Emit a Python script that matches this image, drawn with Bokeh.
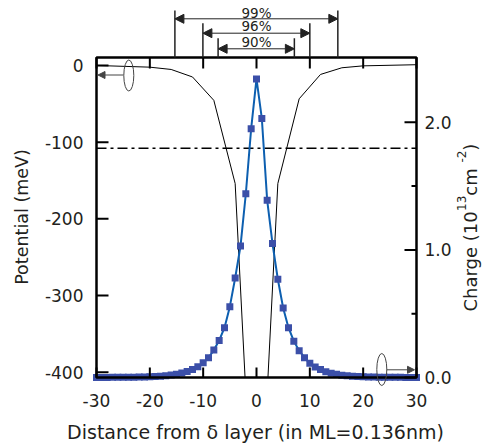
import math
from bokeh.plotting import figure
from bokeh.models import Range1d, Arrow, NormalHead
from bokeh.core.properties import value
from bokeh.embed import file_html
from bokeh.resources import INLINE

# ---------------- data ----------------
pot_x = [-30, -20, -16, -12, -8, -4, 0, 4, 8, 12, 16, 20, 30]
pot_v = [0.0, -2.2, -5.2, -15.0, -45.5, -154.0, -700.0, -154.0, -43.5, -11.7, -3.0, -0.5, 1.0]

charge_x = [-30, -29, -28, -27, -26, -25, -24, -23, -22, -21, -20, -19, -18, -17, -16,
            -15, -14, -13, -12, -11, -10, -9, -8, -7, -6, -5, -4, -3, -2, -1, 0,
            1, 2, 3, 4, 5, 6, 7, 8, 9, 10, 11, 12, 13, 14, 15,
            16, 17, 18, 19, 20, 21, 22, 23, 24, 25, 26, 27, 28, 29, 30]
charge_q = [0.0, 0.0, 0.0, 0.001, 0.001, 0.001, 0.002, 0.002, 0.003, 0.004, 0.005, 0.007, 0.010, 0.014, 0.019,
            0.026, 0.035, 0.047, 0.063, 0.085, 0.115, 0.155, 0.215, 0.29, 0.39, 0.555, 0.78, 1.03, 1.44, 1.95, 2.34,
            2.03, 1.39, 1.05, 0.77, 0.545, 0.39, 0.285, 0.21, 0.155, 0.112, 0.083, 0.062, 0.046, 0.034, 0.025,
            0.018, 0.013, 0.009, 0.007, 0.005, 0.004, 0.003, 0.002, 0.002, 0.001, 0.001, 0.001, 0.0, 0.0, 0.0]

fermi_level = -108.0

bracket_labels = ["99%", "96%", "90%"]
bracket_lo = [-15.3, -10.05, -7.2]
bracket_hi = [15.25, 10.0, 7.1]

x_ticks = [-30, -20, -10, 0, 10, 20, 30]
pot_ticks = [-400, -300, -200, -100, 0]
charge_ticks = [0.0, 1.0, 2.0]
charge_minor = [0.5, 1.5]

x_label = "Distance from \u03b4 layer (in ML=0.136nm)"
y_label = "Potential (meV)"

# ---------------- layout / style ----------------
FONT = "DejaVu Sans"
TXT = "#231f20"
SQ = "#3b4fa8"
LN = "#0d5fb0"
IND = "#444444"
BR = "#222222"

W, H = 484, 448
XL, XR = x_ticks[0], x_ticks[-1]
V_BOT, V_TOP = -407.0, 10.4          # potential axis limits
Q_BOT, Q_TOP = 0.0, 2.508            # charge axis limits
FRAME_L, FRAME_R, FRAME_T, FRAME_B = 96, 416, 57, 377   # plot box in px

XS = (FRAME_R - FRAME_L) / (XR - XL)
PX_MEV = (FRAME_B - FRAME_T) / (V_TOP - V_BOT)
PX_Q = (FRAME_B - FRAME_T) / (Q_TOP - Q_BOT)
X0 = XL - FRAME_L / XS
X1 = X0 + W / XS
V0 = V_BOT - (H - FRAME_B) / PX_MEV
V1 = V0 + H / PX_MEV
Q0 = Q_BOT - (H - FRAME_B) / PX_Q
Q1 = Q0 + H / PX_Q


def x_of(px):
    return X0 + px / XS


def v_of(py):
    return V1 - py / PX_MEV


def q_of(py):
    return Q1 - py / PX_Q


p = figure(width=W, height=H, title=None,
           x_range=Range1d(X0, X1), y_range=Range1d(V0, V1),
           output_backend="svg", toolbar_location=None,
           min_border=0, x_axis_location=None, y_axis_location=None)
p.extra_y_ranges = {"charge": Range1d(Q0, Q1)}
p.xgrid.visible = False
p.ygrid.visible = False
p.outline_line_color = None


def txt(x, y, s, size, align="center", angle=0.0, rng="default"):
    kw = dict(x=x, y=y, text=s, text_align=align, text_baseline="middle", angle=angle,
              text_font=value(FONT), text_font_size=value(size), text_color=TXT)
    if rng != "default":
        kw["y_range_name"] = rng
    p.text(**kw)


# potential curve (the part below the bottom axis is masked)
p.line(pot_x, pot_v, line_color="black", line_width=1)
p.quad(left=[XL], right=[XR], bottom=[V0], top=[V_BOT], fill_color="white", line_color=None)

# dash-dot level
p.line([XL, XR], [fermi_level, fermi_level], line_color="black", line_width=1.5,
       line_dash="10 4 3 4")

# charge curve
p.line(charge_x, charge_q, line_color=LN, line_width=2, y_range_name="charge")
p.scatter(charge_x, charge_q, marker="square", size=7, fill_color=SQ, line_color=None,
          y_range_name="charge")

# ---------------- axes ----------------
p.quad(left=[XL], right=[XR], bottom=[V_BOT], top=[V_TOP], fill_color=None,
       line_color="black", line_width=2.5)
# left ticks + labels
p.segment(x0=[XL] * len(pot_ticks), y0=pot_ticks, x1=[XL + 12 / XS] * len(pot_ticks),
          y1=pot_ticks, line_color="black", line_width=2)
txt([XL - 13 / XS] * len(pot_ticks), pot_ticks, ["%d" % t for t in pot_ticks], "17px",
    align="right")
# bottom ticks + labels
p.segment(x0=x_ticks, y0=[V_BOT] * len(x_ticks), x1=x_ticks,
          y1=[V_BOT + 10 / PX_MEV] * len(x_ticks), line_color="black", line_width=2)
txt(x_ticks, [v_of(399.5)] * len(x_ticks), ["%d" % t for t in x_ticks], "17px")
# top ticks
p.segment(x0=x_ticks, y0=[V_TOP] * len(x_ticks), x1=x_ticks,
          y1=[V_TOP - 11 / PX_MEV] * len(x_ticks), line_color="black", line_width=2)
# right (charge) ticks + labels
p.segment(x0=[XR] * len(charge_ticks), y0=charge_ticks, x1=[XR - 12 / XS] * len(charge_ticks),
          y1=charge_ticks, line_color="black", line_width=2, y_range_name="charge")
p.segment(x0=[XR] * len(charge_minor), y0=charge_minor, x1=[XR - 5 / XS] * len(charge_minor),
          y1=charge_minor, line_color="black", line_width=2, y_range_name="charge")
txt([x_of(424)] * len(charge_ticks), charge_ticks, ["%.1f" % t for t in charge_ticks], "17px",
    align="left", rng="charge")

# axis titles
txt([x_of(255)], [v_of(431)], [x_label], "19px")
txt([x_of(21)], [v_of(216.5)], [y_label], "17.5px", angle=math.pi / 2)
pieces = [("Charge (10", 311.0, 470, "18px"), ("13", 210.5, 461, "12px"),
          (" cm", 195.2, 470, "18px"), ("-2", 162.0, 461, "12px"), (")", 150.3, 470, "18px")]
for s, py, px, fs in pieces:
    txt([x_of(px)], [q_of(py)], [s], fs, align="left", angle=math.pi / 2, rng="charge")

# ---------------- axis indicators (ellipse + arrow) ----------------
p.ellipse(x=[x_of(128.3)], y=[v_of(75)], width=10, height=31, width_units="screen",
          height_units="screen", fill_color=None, line_color=IND, line_width=1)
p.add_layout(Arrow(x_start=x_of(123), y_start=v_of(74.5), x_end=x_of(97.5), y_end=v_of(74.5),
                   line_color=IND, line_width=1,
                   end=NormalHead(size=7, fill_color=IND, line_color=IND)))
p.ellipse(x=[x_of(381.3)], y=[v_of(369)], width=10, height=32, width_units="screen",
          height_units="screen", fill_color=None, line_color=IND, line_width=1)
p.add_layout(Arrow(x_start=x_of(386), y_start=v_of(369.3), x_end=x_of(414), y_end=v_of(369.3),
                   line_color=IND, line_width=1,
                   end=NormalHead(size=7, fill_color=IND, line_color=IND)))

# ---------------- brackets above the plot ----------------
bracket_px = [(10.0, 18.3, 12.0), (22.7, 32.7, 25.8), (37.7, 48.3, 41.3)]
for lab, lo, hi, (ptop, parr, ptxt) in zip(bracket_labels, bracket_lo, bracket_hi, bracket_px):
    p.segment(x0=[lo, hi], y0=[V_TOP, V_TOP], x1=[lo, hi], y1=[v_of(ptop)] * 2,
              line_color=BR, line_width=1.5)
    p.add_layout(Arrow(x_start=lo, y_start=v_of(parr), x_end=hi, y_end=v_of(parr),
                       line_color=BR, line_width=1,
                       start=NormalHead(size=9, fill_color=BR, line_color=BR),
                       end=NormalHead(size=9, fill_color=BR, line_color=BR)))
    txt([0], [v_of(ptxt)], [lab], "13.5px")

open("out.html", "w").write(file_html(p, INLINE))
